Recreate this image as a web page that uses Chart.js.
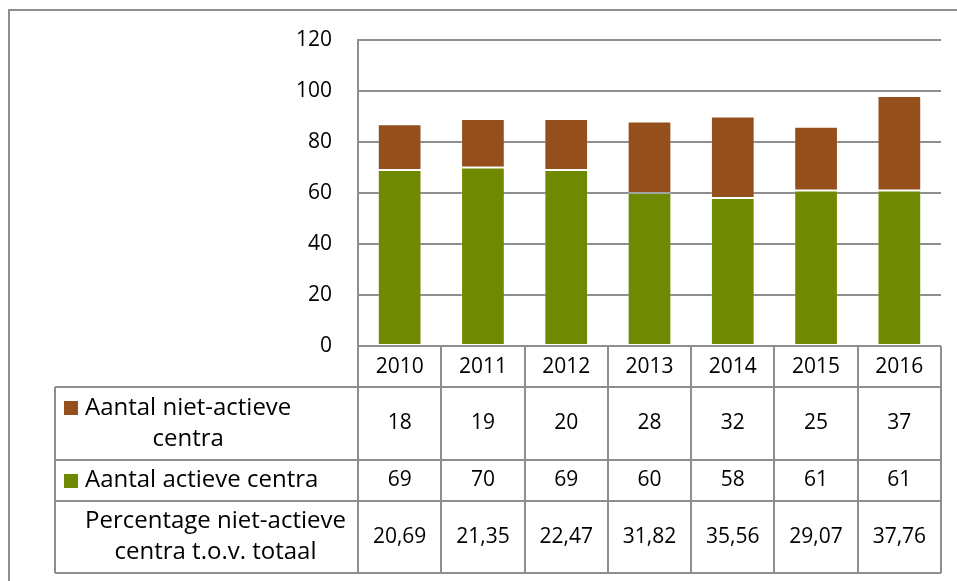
<!DOCTYPE html>
<html>
<head>
<meta charset="utf-8">
<script src="https://cdn.jsdelivr.net/npm/chart.js@4"></script>
<style>
    html, body { margin: 0; padding: 0; background: #fff; }
    #wrap { width: 957px; height: 581px; position: relative; }
</style>
</head>
<body>
<div id="wrap"><canvas id="chart"></canvas></div>
<script>
const years = ["2010", "2011", "2012", "2013", "2014", "2015", "2016"];
const nietActief = [18, 19, 20, 28, 32, 25, 37];
const actief = [69, 70, 69, 60, 58, 61, 61];
const percentage = [20.69, 21.35, 22.47, 31.82, 35.56, 29.07, 37.76];
const yTicks = [0, 20, 40, 60, 80, 100, 120];

const brown = "#954f1d";
const green = "#6f8a00";
const lineColor = "#8e8e8e";
const font = "'Open Sans', sans-serif";
const fontSize = 21;
const labelSize = 24;

// rows of the data table under the plot
const tableRows = [
    {lines: ["Aantal niet-actieve", "centra"], color: brown, values: nietActief.map(String), top: 387, bottom: 460},
    {lines: ["Aantal actieve centra"], color: green, values: actief.map(String), top: 460, bottom: 501},
    {lines: ["Percentage niet-actieve", "centra t.o.v. totaal"], color: null,
        values: percentage.map(v => v.toFixed(2).replace(".", ",")), top: 501, bottom: 573}
];

const tablePlugin = {
    id: "dataTable",
    beforeDraw(chart) {
        const ctx = chart.ctx;
        ctx.save();
        ctx.strokeStyle = lineColor;
        ctx.lineWidth = 2;
        ctx.strokeRect(9, 10, 1000, 1000);
        ctx.restore();
    },
    afterDraw(chart) {
        const ctx = chart.ctx;
        const x = chart.scales.x;
        const area = chart.chartArea;
        const colW = x.width / years.length;
        const tableLeft = 55;
        const tableBottom = tableRows[tableRows.length - 1].bottom;

        ctx.save();
        ctx.strokeStyle = lineColor;
        ctx.lineWidth = 2;
        ctx.beginPath();
        // column borders
        for (let i = 0; i <= years.length; i++) {
            const px = Math.round(area.left + i * colW);
            ctx.moveTo(px, area.bottom);
            ctx.lineTo(px, tableBottom);
        }
        // row borders
        tableRows.forEach(r => {
            ctx.moveTo(tableLeft, r.top);
            ctx.lineTo(area.right, r.top);
        });
        ctx.moveTo(tableLeft, tableBottom);
        ctx.lineTo(area.right, tableBottom);
        ctx.moveTo(tableLeft, tableRows[0].top);
        ctx.lineTo(tableLeft, tableBottom);
        ctx.stroke();

        ctx.fillStyle = "#000";
        ctx.textBaseline = "middle";
        const lineH = 31;
        tableRows.forEach(r => {
            const mid = (r.top + r.bottom) / 2;
            const firstY = mid - (r.lines.length - 1) * lineH / 2;
            ctx.font = labelSize + "px " + font;
            const maxW = Math.max(...r.lines.map(l => ctx.measureText(l).width));
            const textLeft = 85;
            ctx.textAlign = "center";
            r.lines.forEach((l, j) => {
                ctx.fillText(l, textLeft + maxW / 2, firstY + j * lineH);
            });
            if (r.color) {
                ctx.fillStyle = r.color;
                ctx.fillRect(64, Math.round(firstY) - 7, 14, 14);
                ctx.fillStyle = "#000";
            }
            ctx.font = fontSize + "px " + font;
            r.values.forEach((v, i) => {
                ctx.fillText(v, x.getPixelForValue(i), mid);
            });
        });
        ctx.restore();
    }
};

new Chart(document.querySelector("#chart"), {
    type: "bar",
    data: {
        labels: years,
        datasets: [
            {
                label: "Aantal actieve centra",
                data: actief,
                backgroundColor: green,
                borderColor: "rgba(255,255,255,0.2)",
                borderWidth: 1,
                borderSkipped: false
            },
            {
                label: "Aantal niet-actieve centra",
                data: nietActief,
                backgroundColor: brown,
                borderColor: "rgba(255,255,255,0.2)",
                borderWidth: 1,
                borderSkipped: false
            }
        ]
    },
    options: {
        responsive: true,
        maintainAspectRatio: false,
        animation: false,
        layout: {padding: {top: 40, right: 16, left: 0, bottom: 0}},
        datasets: {bar: {categoryPercentage: 1, barPercentage: 0.525}},
        plugins: {
            legend: {display: false},
            tooltip: {enabled: false}
        },
        scales: {
            x: {
                stacked: true,
                grid: {display: false, drawTicks: false},
                border: {display: false},
                ticks: {color: "#000", font: {family: font, size: fontSize}, padding: 8},
                afterFit: scale => { scale.height = 581 - 346; }
            },
            y: {
                stacked: true,
                min: 0,
                max: 120,
                afterBuildTicks: scale => { scale.ticks = yTicks.map(v => ({value: v})); },
                grid: {color: lineColor, lineWidth: 2, drawTicks: false},
                border: {display: true, color: lineColor, width: 2},
                ticks: {color: "#000", font: {family: font, size: fontSize}, padding: 26},
                afterFit: scale => { scale.width = 358; }
            }
        }
    },
    plugins: [tablePlugin]
});
</script>
</body>
</html>
